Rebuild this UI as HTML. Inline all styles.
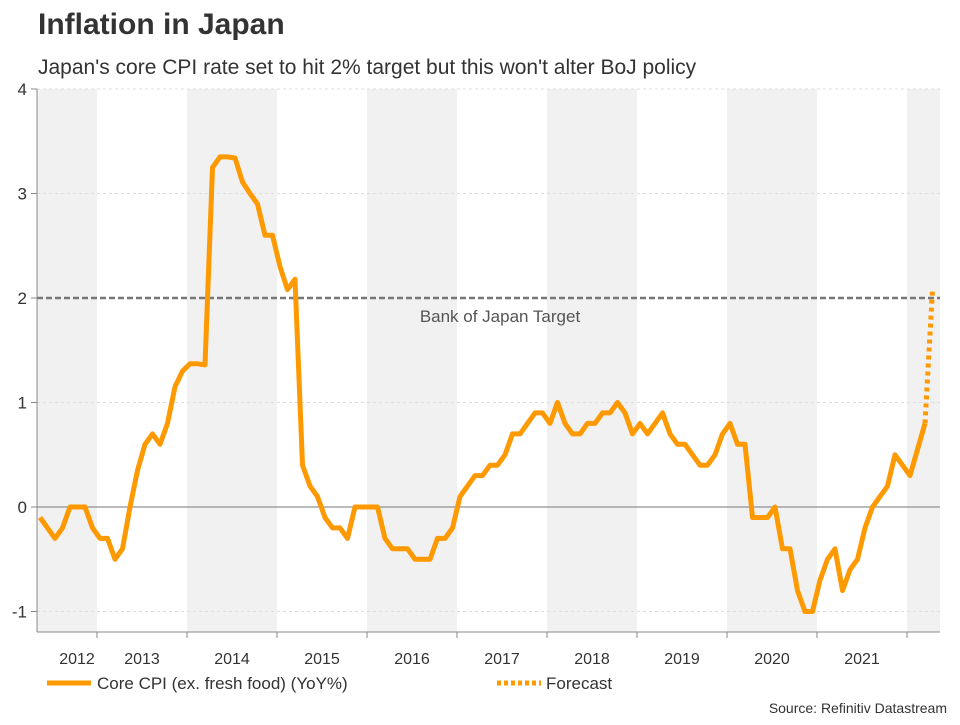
<!DOCTYPE html>
<html><head><meta charset="utf-8"><style>
body{margin:0;background:#fff;font-family:"Liberation Sans",sans-serif;}
svg text{font-family:"Liberation Sans",sans-serif;}
</style></head><body>
<svg id="chart" width="960" height="720" viewBox="0 0 960 720">
<text x="38" y="34" font-size="30" font-weight="bold" fill="#333">Inflation in Japan</text>
<text x="38" y="74" font-size="21" fill="#333">Japan's core CPI rate set to hit 2% target but this won't alter BoJ policy</text>
<g id="bands"></g>
<g id="grid"></g>
<g id="series"></g>
<g id="axes"></g>
<g>
<line x1="47" y1="683" x2="91" y2="683" stroke="#f90" stroke-width="5"/>
<text x="97" y="689" font-size="17" fill="#333">Core CPI (ex. fresh food) (YoY%)</text>
<line x1="497" y1="683" x2="541" y2="683" stroke="#f90" stroke-width="5" stroke-dasharray="4,3"/>
<text x="546" y="689" font-size="17" fill="#333">Forecast</text>
</g>
<text x="947" y="713" font-size="14" fill="#333" text-anchor="end">Source: Refinitiv Datastream</text>
</svg>
<script>
const startYear = 2012, startMonth = 4; // May 2012
const cpiValues = [-0.1,-0.2,-0.3,-0.2,0,0,0,-0.2,
-0.3,-0.3,-0.5,-0.4,0,0.35,0.6,0.7,0.6,0.8,1.15,1.3,
1.37,1.37,1.36,3.25,3.35,3.35,3.34,3.11,3.0,2.9,2.6,2.6,
2.3,2.08,2.18,0.4,0.2,0.1,-0.1,-0.2,-0.2,-0.3,0,0,
0,0,-0.3,-0.4,-0.4,-0.4,-0.5,-0.5,-0.5,-0.3,-0.3,-0.2,
0.1,0.2,0.3,0.3,0.4,0.4,0.5,0.7,0.7,0.8,0.9,0.9,
0.8,1.0,0.8,0.7,0.7,0.8,0.8,0.9,0.9,1.0,0.9,0.7,
0.8,0.7,0.8,0.9,0.7,0.6,0.6,0.5,0.4,0.4,0.5,0.7,
0.8,0.6,0.6,-0.1,-0.1,-0.1,0,-0.4,-0.4,-0.8,-1.0,-1.0,
-0.7,-0.5,-0.4,-0.8,-0.6,-0.5,-0.2,0,0.1,0.2,0.5,0.4,
0.3,0.55,0.8];
const forecastValues = [0.8, 2.08];
const yTicks = [-1,0,1,2,3,4];
const yTickLabels = ["-1","0","1","2","3","4"];
const years = [2012,2013,2014,2015,2016,2017,2018,2019,2020,2021,2022];
const targetValue = 2;
const targetLabel = "Bank of Japan Target";

const NS="http://www.w3.org/2000/svg";
const L=37,R=940,T=89,B=632;
function xM(m){return 10+7.5*m;} // months since Jan 2012
function y(v){return 507-104.5*v;}
function mk(parent,tag,attrs){const e=document.createElementNS(NS,tag);for(const k in attrs)e.setAttribute(k,attrs[k]);document.getElementById(parent).appendChild(e);return e;}

years.forEach((yr,i)=>{
  const x0=Math.max(L,7+90*(yr-2012)), x1=Math.min(R,7+90*(yr-2011));
  if(i%2===0){const r=mk('bands','rect',{x:x0,y:T,width:x1-x0,height:B-T,fill:'#f1f1f1'});
  
  }
  if(yr<2022){const t=mk('axes','text',{x:yr===2012?77:(x0+x1)/2,y:664,'font-size':16,fill:'#333','text-anchor':'middle'});t.textContent=yr;
  
  }
  if(yr>2012){const tk=mk('axes','line',{x1:x0,x2:x0,y1:B,y2:638,stroke:'#888'});
  
  }
});
yTicks.forEach((v,i)=>{
  if(v!==0&&v!==targetValue){const g=mk('grid','line',{x1:L,x2:R,y1:y(v),y2:y(v),stroke:'#ddd','stroke-dasharray':'3,3'});
  
  }
  const tk=mk('axes','line',{x1:31,x2:L,y1:y(v),y2:y(v),stroke:'#888'});
  
  
  const t=mk('axes','text',{x:27,y:y(v)+6,'font-size':17,fill:'#333','text-anchor':'end'});t.textContent=yTickLabels[i];
  
  
});
const z=mk('grid','line',{x1:L,x2:R,y1:y(0),y2:y(0),stroke:'#777'});


const tl=mk('grid','line',{x1:L,x2:R,y1:y(targetValue),y2:y(targetValue),stroke:'#777','stroke-width':2.5,'stroke-dasharray':'6,3'});


const tt=mk('grid','text',{x:500,y:y(targetValue)+24,'font-size':17,fill:'#555','text-anchor':'middle'});tt.textContent=targetLabel;


const ax=mk('axes','line',{x1:L,x2:L,y1:T,y2:B,stroke:'#888'});


const bx=mk('axes','line',{x1:L,x2:R,y1:B,y2:B,stroke:'#888'});



const m0=(startYear-2012)*12+startMonth;
const pts=cpiValues.map((v,i)=>xM(m0+i).toFixed(1)+','+y(v).toFixed(1)).join(' ');
const line=mk('series','polyline',{points:pts,fill:'none',stroke:'#f90','stroke-width':5,'stroke-linejoin':'round'});


const fm=m0+cpiValues.length-1;
const fpts=forecastValues.map((v,i)=>xM(fm+i).toFixed(1)+','+y(v).toFixed(1)).join(' ');
const fl=mk('series','polyline',{points:fpts,fill:'none',stroke:'#f90','stroke-width':5,'stroke-dasharray':'4,4'});


</script>
</body></html>
